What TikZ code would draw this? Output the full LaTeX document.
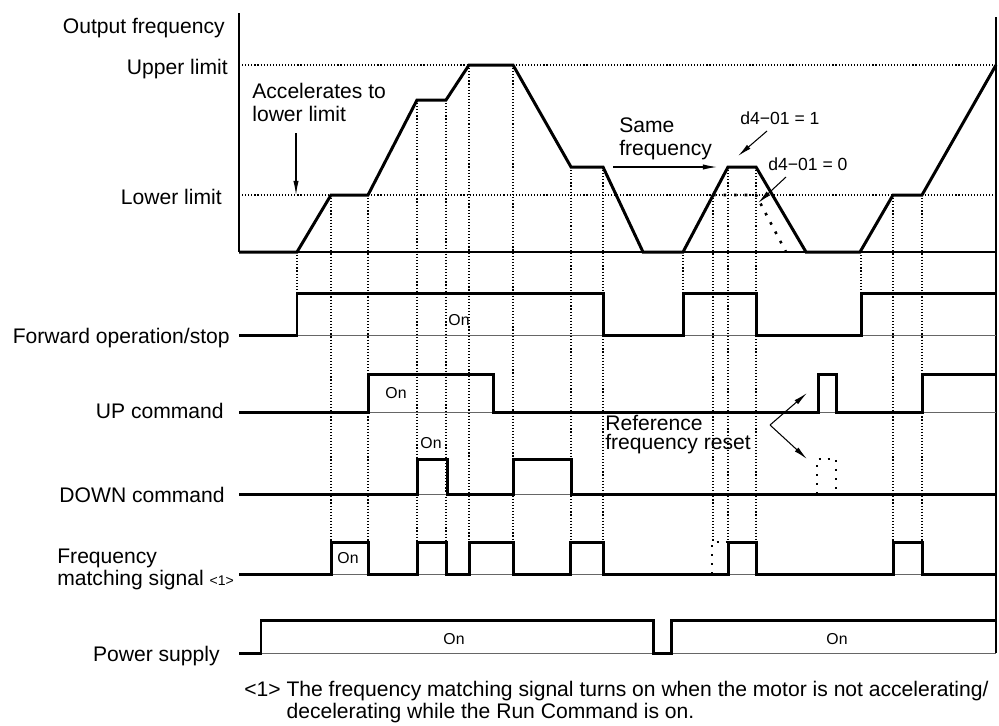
\documentclass[tikz,border=0pt]{standalone}
\usepackage{fontspec}
\setmainfont{Liberation Sans}
\usetikzlibrary{arrows.meta}

\tikzset{
  sig/.style={line width=1.7pt, line join=miter},
  rail/.style={line width=0.5pt, black!60},
  guide/.style={line width=0.65pt, dash pattern=on 0.65pt off 1.1pt},
  alt/.style={line width=1.5pt, dash pattern=on 1.5pt off 4.5pt},
  lbl/.style={anchor=base east, inner sep=0pt, font=\fontsize{12}{14}\selectfont},
  onlbl/.style={inner sep=0pt, font=\fontsize{9}{10}\selectfont},
  note/.style={anchor=base west, align=left, inner sep=0pt},
  arr/.style={line width=0.6pt, -{Latex[length=8pt,width=3pt]}},
}

\begin{document}
\begin{tikzpicture}[x=0.02cm, y=-0.02cm]
    \useasboundingbox (0,0) rectangle (999,725);

    % Limits
    \draw[guide] (239,65) -- (996,65);
    \draw[guide] (239,195) -- (996,195);

    % Guides down to the signals
    \foreach \x/\ya/\yb in {297/252/293, 331/195/542, 368/195/542, 417/100/542,
        446/100/542, 469/65/542, 513/65/542, 571/167/542, 603/167/542,
        683/252/293, 713/195/542, 728/167/542, 756/167/542, 861/252/293,
        893/195/542, 922/195/542}
        \draw[guide] (\x,\ya) -- (\x,\yb);

    % Frame
    \draw[line width=0.9pt] (239,13) -- (239,252);
    \draw[line width=1.1pt] (239,252) -- (996,252);
    \draw[line width=0.9pt] (996,17) -- (996,653);

    % Output frequency
    \draw[sig] (239,252) -- (297,252) -- (331,195) -- (368,195) -- (417,100)
        -- (446,100) -- (469,65) -- (513,65) -- (571,167) -- (603,167)
        -- (643,252) -- (683,252) -- (728,167) -- (756,167) -- (806,252)
        -- (860,252) -- (893,195) -- (922,195) -- (996,65);
    \draw[alt] (713,195) -- (756,195) -- (786,252);

    % Rails
    \foreach \y in {335, 412, 494, 574}
        \draw[rail] (239,\y) -- (996,\y);
    \draw[rail] (261,653) -- (996,653);

    % Forward operation/stop
    \draw[sig] (239,335) -- (297,335) -- (297,293) -- (603,293) -- (603,335)
        -- (683,335) -- (683,293) -- (756,293) -- (756,335) -- (861,335)
        -- (861,293) -- (996,293);

    % UP command
    \draw[sig] (239,412) -- (368,412) -- (368,374) -- (493,374) -- (493,412)
        -- (818,412) -- (818,374) -- (836,374) -- (836,412) -- (922,412)
        -- (922,374) -- (996,374);

    % DOWN command
    \draw[sig] (239,494) -- (417,494) -- (417,459) -- (447,459) -- (447,494)
        -- (513,494) -- (513,459) -- (571,459) -- (571,494) -- (996,494);
    \draw[alt, line width=1.2pt, dash pattern=on 1.2pt off 4pt]
        (817,494) -- (817,459) -- (836,459) -- (836,494);

    % Frequency matching signal
    \draw[sig] (239,574) -- (331,574) -- (331,542) -- (368,542) -- (368,574)
        -- (417,574) -- (417,542) -- (446,542) -- (446,574) -- (469,574)
        -- (469,542) -- (513,542) -- (513,574) -- (570,574) -- (570,542)
        -- (603,542) -- (603,574) -- (728,574) -- (728,542) -- (756,542)
        -- (756,574) -- (893,574) -- (893,542) -- (922,542) -- (922,574)
        -- (996,574);
    \draw[alt, line width=1.2pt, dash pattern=on 1.2pt off 4pt]
        (712,574) -- (712,542) -- (728,542);

    % Power supply
    \draw[sig] (239,653) -- (261,653) -- (261,620) -- (653,620) -- (653,653)
        -- (671,653) -- (671,620) -- (996,620);

    % Signal names
    \node[lbl] (outfreq) at (225,33) {Output frequency};
    \node[lbl] (upper) at (228,74) {Upper limit};
    \node[lbl] (lower) at (222,204) {Lower limit};
    \node[lbl] (fwd) at (230,343) {Forward operation/stop};
    \node[lbl] (up) at (224,418) {UP command};
    \node[lbl] (down) at (225,502) {DOWN command};
    \node[note, font=\fontsize{12}{12}\selectfont] (match) at (57,585)
        {Frequency\\matching signal {\fontsize{8}{8}\selectfont <1>}};
    \node[lbl] (power) at (220,661) {Power supply};

    % On states
    \node[onlbl] (fwdon) at (459,320) {On};
    \node[onlbl] (upon) at (396,393) {On};
    \node[onlbl] (downon) at (431,443) {On};
    \node[onlbl] (matchon) at (348,558) {On};
    \node[onlbl] (poweron1) at (454,639) {On};
    \node[onlbl] (poweron2) at (837,639) {On};

    % Notes on the frequency trace
    \node[note, font=\fontsize{12}{13}\selectfont] (accel) at (252,121)
        {Accelerates to\\lower limit};
    \node[note, font=\fontsize{12}{13}\selectfont] (same) at (619,155)
        {Same\\frequency};
    \node[note, font=\fontsize{10}{12}\selectfont] (done) at (740,124)
        {d4−01 = 1};
    \node[note, font=\fontsize{10}{12}\selectfont] (dzero) at (768,170)
        {d4−01 = 0};
    \node[note, font=\fontsize{12}{10.5}\selectfont] (reset) at (605,449)
        {Reference\\frequency reset};

    \coordinate (accFrom) at (296,133);
    \coordinate (accTo) at (296,195);
    \coordinate (sameFrom) at (613,167);
    \coordinate (sameTo) at (717,167);
    \coordinate (doneFrom) at (767,131);
    \coordinate (doneTo) at (738,156);
    \coordinate (dzeroFrom) at (786,177);
    \coordinate (dzeroTo) at (758,203);
    \coordinate (resetFork) at (770,425);
    \coordinate (resetUp) at (807,393);
    \coordinate (resetDown) at (807,459);

    \draw[arr] (accFrom) -- (accTo);
    \draw[arr] (sameFrom) -- (sameTo);
    \draw[arr] (doneFrom) -- (doneTo);
    \draw[arr] (dzeroFrom) -- (dzeroTo);
    \draw[arr] (resetFork) -- (resetUp);
    \draw[arr] (resetFork) -- (resetDown);

    % Footnote
    \node[note, font=\fontsize{12}{9}\selectfont] (foot) at (244,718)
        {<1> The frequency matching signal turns on when the motor is not accelerating/\\
         \phantom{<1>}\ decelerating while the Run Command is on.};
\end{tikzpicture}
\end{document}
